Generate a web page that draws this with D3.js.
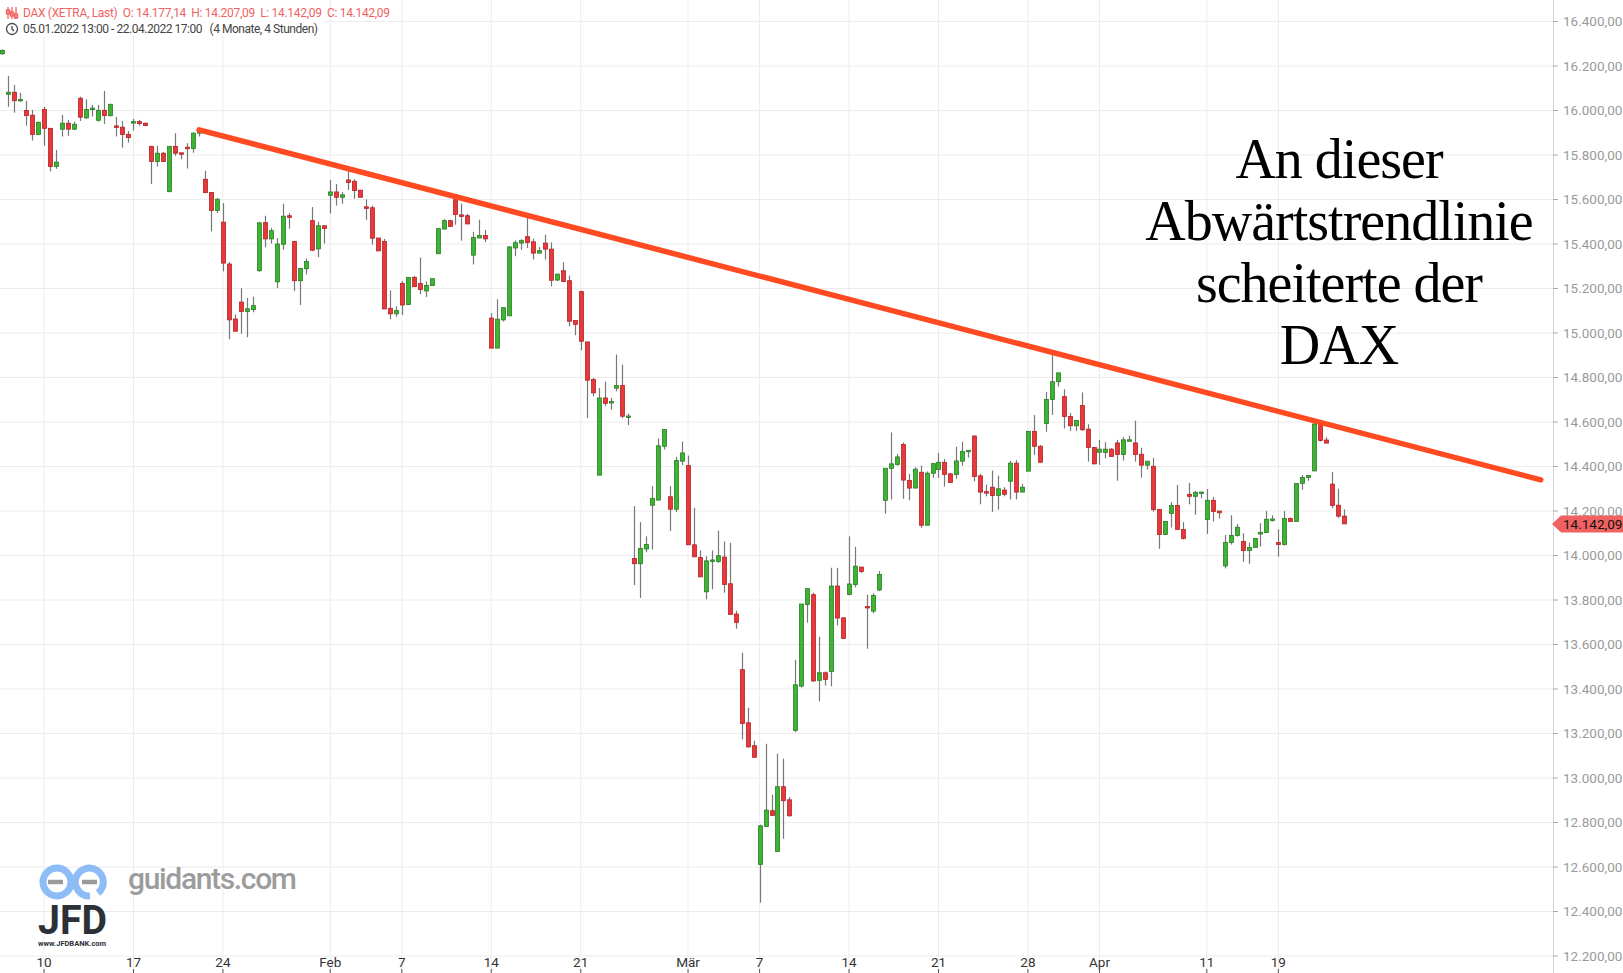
<!DOCTYPE html>
<html lang="de">
<head>
<meta charset="utf-8">
<title>DAX 4h</title>
<style>
  body { margin: 0; background: #fff; }
  svg { display: block; font-family: Roboto, "Liberation Sans", sans-serif; }
</style>
</head>
<body>
<script src="https://cdn.jsdelivr.net/npm/d3@7"></script>
<script>
// 4-hour candles, 05.01.2022 17:00 .. 22.04.2022 17:00
var open  = [16255,16073,16082,16043,16000,15979,15892,16005,15920,15748,15916,15943,15916,16055,15967,16004,15956,16001,15977,15931,15925,15893,15947,15950,15943,15839,15771,15808,15636,15839,15810,15835,15829,15898,15691,15632,15551,15498,15310,15063,15139,15097,15105,15280,
  15496,15423,15230,15399,15527,15411,15235,15289,15505,15378,15482,15619,15634,15610,15688,15682,15642,15567,15563,15427,15411,15111,15086,15223,15128,15250,15222,15189,15213,15356,15467,15505,15599,15531,15527,15350,15427,15438,15067,14932,15059,15077,
  15382,15404,15433,15410,15359,15404,15377,15238,15280,15235,15056,15186,14960,14791,14361,14708,14686,14752,14764,14626,13987,13963,14029,14226,14249,14491,14264,14208,14424,14404,14048,13991,13837,13978,13973,
  13993,13873,13737,13487,13248,13145,12612,12782,12853,12670,12961,12902,13214,13413,13780,13824,13439,13473,13479,13863,13720,13825,13870,13948,13771,13750,13845,
  14248,14392,14409,14499,14337,14303,14374,14136,14370,14386,14419,14367,14364,14424,14467,14537,14358,14287,14307,14270,14294,14334,14415,14285,14379,14558,14491,14593,14701,14781,14714,14625,14583,14674,14568,14486,14464,
  14463,14478,14506,14454,14518,14506,14455,14406,14401,14207,14094,14189,14225,14117,14275,14266,14283,14162,14248,14200,13953,14058,14090,14063,14022,14036,14099,14103,14162,14058,14049,14166,14153,14324,14351,
  14380,14597,14519,14321,14226,14177.14];
var high  = [16275,16155,16115,16079,16043,16003,15950,16017,15922,15823,15980,15958,15950,16062,16050,16025,16025,16088,16030,15971,15953,15908,15962,15958,15946,15839,15841,15814,15839,15898,15810,15853,15902,15913,15729,15632,15607,15584,15319,15083,15201,15157,15163,15500,
  15527,15472,15427,15581,15539,15415,15290,15335,15566,15500,15482,15688,15670,15634,15736,15691,15642,15601,15572,15427,15423,15192,15120,15233,15250,15256,15339,15232,15244,15356,15512,15509,15613,15581,15536,15455,15509,15464,15089,15151,15114,15389,
  15416,15422,15539,15424,15386,15442,15407,15265,15318,15258,15056,15190,14960,14798,14753,14782,14708,14903,14858,14638,14222,14150,14086,14312,14526,14566,14312,14443,14512,14449,14214,14023,13997,14023,14112,
  14063,14057,13752,13563,13316,13167,12790,13154,12925,13109,13087,12914,13531,13782,13851,13833,13635,13479,13945,13945,13720,14086,14039,13948,13824,13830,13930,
  14392,14553,14456,14508,14367,14397,14404,14378,14413,14461,14434,14371,14489,14511,14473,14541,14367,14319,14382,14359,14307,14425,14429,14322,14560,14631,14497,14735,14914,14821,14747,14640,14607,14733,14590,14486,14520,
  14509,14482,14520,14533,14538,14606,14484,14424,14439,14207,14153,14240,14317,14150,14326,14290,14288,14299,14263,14200,14093,14181,14141,14100,14058,14076,14145,14200,14181,14118,14200,14171,14326,14362,14362,
  14595,14603,14532,14375,14300,14207.09];
var low   = [16250,16017,15990,16040,15932,15865,15890,15842,15726,15738,15883,15886,15913,15953,15962,15973,15950,15940,15973,15883,15833,15856,15910,15932,15930,15670,15748,15771,15632,15796,15781,15739,15810,15883,15628,15457,15539,15277,14972,15008,14997,14981,15093,15275,
  15385,15402,15202,15375,15469,15189,15126,15263,15368,15341,15402,15537,15573,15581,15643,15603,15610,15509,15397,15369,15108,15062,15073,15081,15126,15208,15174,15162,15213,15356,15467,15478,15487,15415,15490,15308,15427,15408,14932,14932,15052,15077,
  15345,15374,15382,15330,15359,15330,15210,15234,15228,15030,14990,14922,14617,14716,14361,14671,14656,14738,14617,14586,13867,13809,14015,14027,14249,14476,14110,14195,14406,14048,13994,13904,13803,13848,13967,
  13833,13735,13671,13173,13136,13093,12440,12782,12832,12670,12727,12827,13206,13406,13698,13433,13344,13416,13412,13686,13627,13821,13857,13921,13581,13740,13840,
  14188,14252,14404,14255,14248,14303,14124,14136,14349,14349,14310,14328,14345,14404,14440,14333,14230,14266,14196,14206,14266,14252,14252,14285,14379,14452,14419,14556,14632,14759,14571,14560,14560,14560,14422,14409,14407,
  14437,14445,14336,14427,14515,14422,14350,14386,14197,14030,14094,14126,14117,14072,14230,14183,14257,14097,14153,14166,13942,14049,14085,13972,13963,14036,14040,14103,14153,13995,14045,14153,14153,14296,14336,
  14380,14513,14505,14213,14168,14142.09];
var close = [16270,16082,16044,16050,15977,15892,15947,15920,15748,15768,15943,15916,15938,15970,16005,16011,16001,15977,16028,15924,15892,15878,15950,15941,15932,15771,15808,15771,15839,15808,15808,15829,15898,15913,15631,15551,15601,15314,15059,15008,15097,15109,15123,15495,
  15423,15460,15400,15525,15520,15235,15290,15321,15372,15482,15470,15634,15610,15621,15676,15640,15610,15560,15426,15369,15108,15086,15101,15126,15250,15208,15195,15214,15244,15469,15505,15479,15533,15524,15490,15429,15438,15423,14932,15062,15114,15387,
  15406,15415,15407,15359,15370,15377,15237,15265,15232,15053,15039,14963,14788,14731,14708,14684,14692,14764,14626,14627,13963,14032,14050,14256,14493,14566,14208,14427,14461,14048,13994,13904,13976,13980,13999,
  13870,13735,13699,13245,13140,13093,12785,12856,12832,12961,12898,12830,13419,13782,13851,13436,13473,13443,13863,13719,13627,13872,13952,13928,13765,13820,13915,
  14392,14412,14443,14339,14303,14388,14136,14370,14413,14419,14364,14328,14425,14468,14473,14355,14285,14283,14270,14300,14275,14415,14285,14307,14558,14491,14419,14701,14781,14821,14625,14583,14607,14565,14486,14412,14478,
  14478,14445,14454,14520,14520,14454,14406,14424,14206,14094,14153,14225,14117,14076,14266,14284,14285,14248,14198,14192,14058,14090,14127,14022,14036,14076,14103,14163,14164,14049,14166,14153,14324,14351,14360,
  14591,14517,14505,14225,14177,14142.09];

// week / month starts: candle index and label
var tickIdx    = [7, 22, 37, 55, 67, 82, 97, 115, 127, 142, 157, 172, 184, 202, 214];
var tickLabels = ["10", "17", "24", "Feb", "7", "14", "21", "Mär", "7", "14", "21", "28", "Apr", "11", "19"];
var priceTicks = d3.range(12200, 16401, 200);

// hand-drawn resistance line (candle index, price)
var trendIdx   = [33, 258];
var trendPrice = [15913, 14340];

var notes = ["An dieser", "Abwärtstrendlinie", "scheiterte der", "DAX"];

var w = 1623, h = 973;
var plotRight = 1553;

var x = d3.scaleLinear().domain([0, 1]).range([2.3, 2.3 + 5.963]);
var y = d3.scaleLinear().domain([12200, 16400]).range([956, 21.5]);
var fmt = function(v) {
    var s = d3.format(",.2f")(v);
    return s.replace(/,/g, "#").replace(".", ",").replace(/#/g, ".");
};

var svg = d3.select("body").append("svg").attr("width", w).attr("height", h);

svg.append("clipPath").attr("id", "plot")
    .append("rect").attr("width", plotRight).attr("height", h);

var plot = svg.append("g").attr("clip-path", "url(#plot)");

// grid
plot.selectAll(".hg").data(priceTicks).enter().append("line")
    .attr("x1", 0).attr("x2", plotRight)
    .attr("y1", function(d){ return y(d); }).attr("y2", function(d){ return y(d); })
    .attr("stroke", "#ececec");
plot.selectAll(".vg").data(tickIdx).enter().append("line")
    .attr("x1", function(d){ return x(d); }).attr("x2", function(d){ return x(d); })
    .attr("y1", 0).attr("y2", h)
    .attr("stroke", "#ececec");

// candles
var idx = d3.range(open.length);
var c = plot.selectAll(".c").data(idx).enter().append("g");
c.append("line")
    .attr("x1", function(i){ return Math.round(x(i)) + 0.5; })
    .attr("x2", function(i){ return Math.round(x(i)) + 0.5; })
    .attr("y1", function(i){ return y(high[i]); })
    .attr("y2", function(i){ return y(low[i]); })
    .attr("stroke", "#777").attr("stroke-width", 1.2);
c.append("rect")
    .attr("x", function(i){ return Math.round(x(i)) - 1.5; })
    .attr("width", 4)
    .attr("y", function(i){ return y(Math.max(open[i], close[i])); })
    .attr("height", function(i){ return Math.max(1.5, Math.abs(y(open[i]) - y(close[i]))); })
    .attr("fill", function(i){ return close[i] >= open[i] ? "#3db534" : "#e8383a"; })
    .attr("stroke", function(i){ return close[i] >= open[i] ? "#2a7d22" : "#b32226"; })
    .attr("stroke-width", 0.8);

// trend line
plot.append("line")
    .attr("x1", x(trendIdx[0])).attr("y1", y(trendPrice[0]))
    .attr("x2", x(trendIdx[1])).attr("y2", y(trendPrice[1]))
    .attr("stroke", "#ff4a22").attr("stroke-width", 5.5).attr("stroke-linecap", "round");

// right axis
svg.append("line").attr("x1", plotRight + 0.5).attr("x2", plotRight + 0.5)
    .attr("y1", 0).attr("y2", h).attr("stroke", "#d8d8d8");
var ya = svg.selectAll(".yt").data(priceTicks).enter().append("g");
ya.append("line").attr("x1", plotRight).attr("x2", plotRight + 5)
    .attr("y1", function(d){ return y(d); }).attr("y2", function(d){ return y(d); })
    .attr("stroke", "#aaa");
ya.append("text").attr("x", plotRight + 10).attr("y", function(d){ return y(d); })
    .attr("dy", "0.35em").attr("font-size", 13.5).attr("fill", "#9a9a9a")
    .text(fmt);

// last price tag
var last = close[close.length - 1];
var ly = y(last);
svg.append("path")
    .attr("d", "M" + (plotRight - 1) + "," + ly + "L" + (plotRight + 8) + "," + (ly - 8.5) +
         "H" + w + "V" + (ly + 8.5) + "H" + (plotRight + 8) + "Z")
    .attr("fill", "#f06262");
svg.append("text").attr("x", plotRight + 10).attr("y", ly).attr("dy", "0.35em")
    .attr("font-size", 13.5).attr("fill", "#111").text(fmt(last));

// x axis labels
var xa = svg.selectAll(".xt").data(tickIdx).enter().append("g");
xa.append("text").attr("x", function(d){ return x(d); }).attr("y", 967)
    .attr("text-anchor", "middle").attr("font-size", 13.5).attr("fill", "#333")
    .text(function(d, i){ return tickLabels[i]; });
xa.append("line").attr("x1", function(d){ return x(d); }).attr("x2", function(d){ return x(d); })
    .attr("y1", 969).attr("y2", 973).attr("stroke", "#555");

// header
svg.append("rect").attr("width", 324).attr("height", 36).attr("fill", "#fff").attr("opacity", 0.9);
var ic = svg.append("g").attr("stroke", "#f06262").attr("fill", "none").attr("stroke-width", 1.3);
[8, 12, 16].forEach(function(px, k) {
    ic.append("line").attr("x1", px).attr("x2", px).attr("y1", 7).attr("y2", 19);
    ic.append("rect").attr("x", px - 1.5).attr("y", 10 + k * 2).attr("width", 3).attr("height", 4);
});
svg.append("text").attr("x", 23).attr("y", 13).attr("dy", "0.35em")
    .attr("font-size", 12).attr("fill", "#f06262")
    .attr("xml:space", "preserve").attr("textLength", 367)
    .text("DAX (XETRA, Last)  O: 14.177,14  H: 14.207,09  L: 14.142,09  C: 14.142,09");
var clk = svg.append("g").attr("stroke", "#444").attr("fill", "none").attr("stroke-width", 1.3);
clk.append("circle").attr("cx", 12).attr("cy", 29).attr("r", 5.5);
clk.append("path").attr("d", "M12,26V29L14,31");
svg.append("text").attr("x", 23).attr("y", 29).attr("dy", "0.35em")
    .attr("font-size", 12).attr("fill", "#444")
    .attr("xml:space", "preserve").attr("textLength", 295)
    .text("05.01.2022 13:00 - 22.04.2022 17:00   (4 Monate, 4 Stunden)");

// watermark
var lg = svg.append("g");
lg.append("circle").attr("cx", 57).attr("cy", 882).attr("r", 14)
    .attr("fill", "none").attr("stroke", "#8ebcf7").attr("stroke-width", 7);
lg.append("path").attr("d", "M98,893 A14,14 0 1 0 90,896")
    .attr("fill", "none").attr("stroke", "#8ebcf7").attr("stroke-width", 7);
lg.append("line").attr("x1", 48).attr("x2", 63).attr("y1", 882).attr("y2", 882)
    .attr("stroke", "#9a9a9a").attr("stroke-width", 4.5);
lg.append("line").attr("x1", 82).attr("x2", 97).attr("y1", 882).attr("y2", 882)
    .attr("stroke", "#9a9a9a").attr("stroke-width", 4.5);
lg.append("text").attr("x", 38).attr("y", 934).attr("font-size", 40).attr("font-weight", "bold")
    .attr("fill", "#2b3137").attr("textLength", 69).attr("lengthAdjust", "spacingAndGlyphs").text("JFD");
lg.append("text").attr("x", 38).attr("y", 946).attr("font-size", 7.5).attr("font-weight", "bold")
    .attr("fill", "#2b3137").attr("textLength", 68).text("www.JFDBANK.com");
lg.append("text").attr("x", 128).attr("y", 889).attr("font-size", 30).attr("font-weight", 500)
    .attr("fill", "#9c9c9c").attr("textLength", 169).text("guidants.com");

// annotation
svg.selectAll(".note").data(notes).enter().append("text")
    .attr("x", 1339).attr("y", function(d, i){ return 178 + i * 62; })
    .attr("text-anchor", "middle")
    .attr("font-family", "'Liberation Serif', 'DejaVu Serif', serif")
    .attr("font-size", 56).attr("letter-spacing", -1).attr("fill", "#000")
    .text(function(d){ return d; });
</script>
</body>
</html>
